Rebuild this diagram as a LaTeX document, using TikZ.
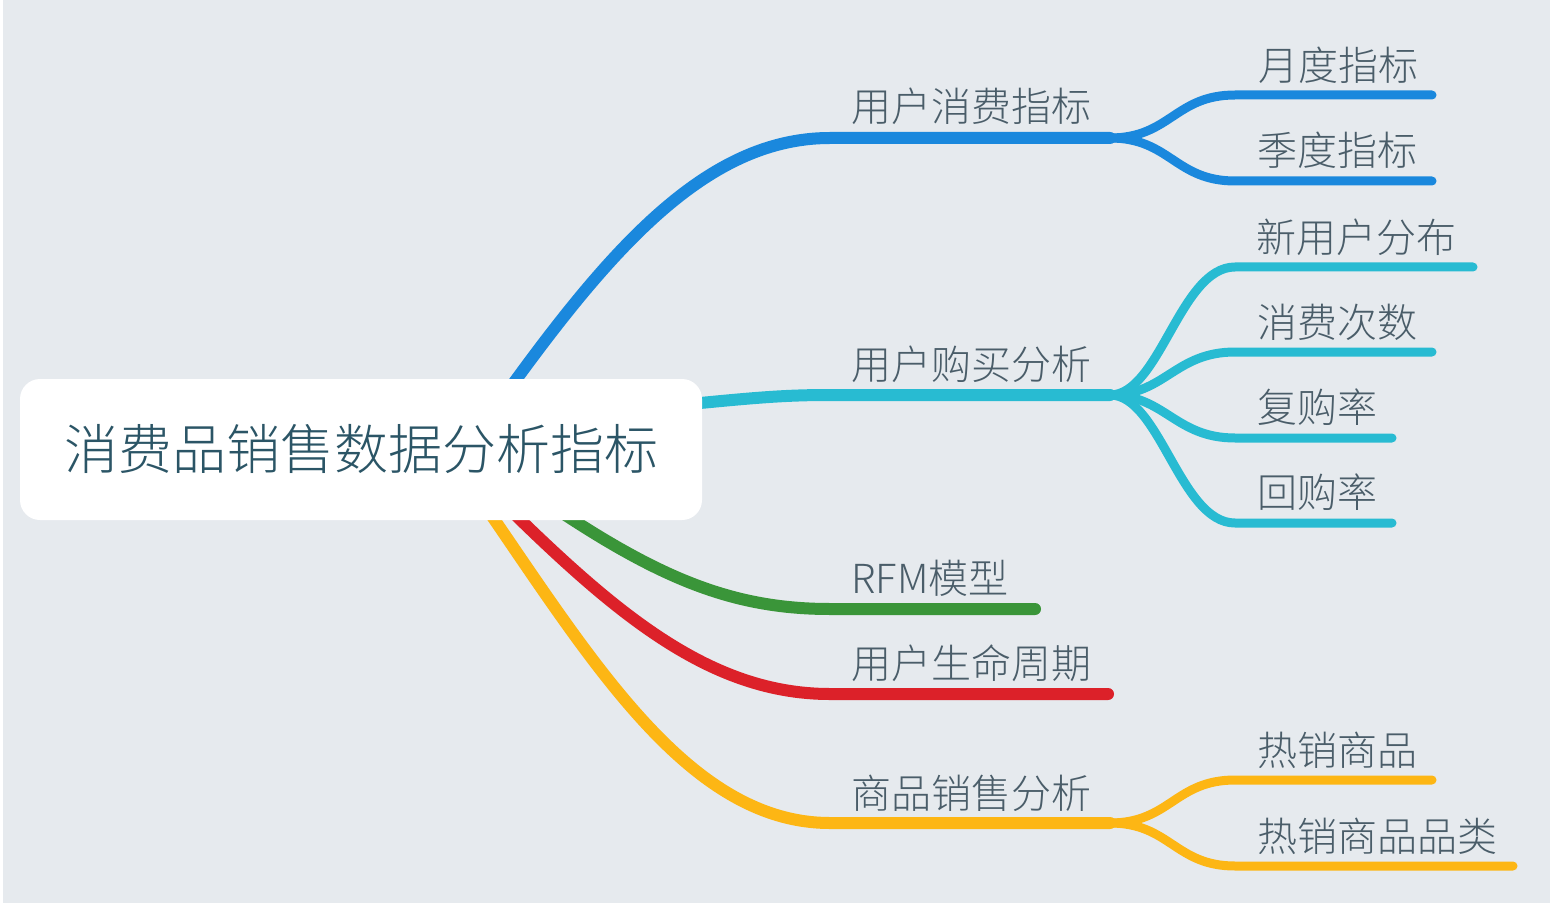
\documentclass[tikz,border=0pt]{standalone}
\usepackage{fontspec}
\setmainfont{Noto Sans CJK SC}[UprightFont={* Light}]
\definecolor{bg}{HTML}{E6EAEE}
\definecolor{cblue}{HTML}{1A88DD}
\definecolor{ccyan}{HTML}{28BBD2}
\definecolor{cgreen}{HTML}{3A9539}
\definecolor{cred}{HTML}{DC2129}
\definecolor{cyellow}{HTML}{FDB614}
\definecolor{roottext}{HTML}{2B5566}
\definecolor{labtext}{HTML}{4A5D69}
\tikzset{
  mainline/.style={line width=6pt, line cap=round},
  subline/.style={line width=4.5pt, line cap=round},
  lab/.style={anchor=west, inner sep=0pt, text=labtext, font=\fontsize{20pt}{24pt}\selectfont},
  rootbox/.style={fill=white, rounded corners=10pt, minimum width=341pt, minimum height=70.5pt, inner sep=0pt, text=roottext, font=\fontsize{27pt}{32pt}\selectfont}
}
\begin{document}
\begin{tikzpicture}[x=0.5pt,y=-0.5pt]
\useasboundingbox (0,0) rectangle (1550,903);
\fill[bg] (0,0) rectangle (1550,903);
\fill[white] (0,0) rectangle (3,903);
% fork / end coordinates
\coordinate (r1) at (480,430);
\coordinate (r2) at (650,408);
\coordinate (r3) at (500,470);
\coordinate (r4) at (470,470);
\coordinate (r5) at (460,470);
\coordinate (f1) at (1110,138);
\coordinate (f2) at (1110,395);
\coordinate (e3) at (1035,609);
\coordinate (e4) at (1108,694);
\coordinate (f5) at (1110,823);
\coordinate (e11) at (1432,95);
\coordinate (e12) at (1432,181);
\coordinate (e21) at (1473,267);
\coordinate (e22) at (1432,352);
\coordinate (e23) at (1392,438);
\coordinate (e24) at (1392,523);
\coordinate (e51) at (1432,780);
\coordinate (e52) at (1513,866);
% main branches
\draw[mainline, cblue] (r1) .. controls (600,260) and (700,138) .. (830,138) -- (f1);
\draw[mainline, ccyan] (r2) .. controls (750,398) and (780,395) .. (830,395) -- (f2);
\draw[mainline, cgreen] (r3) .. controls (640,570) and (720,609) .. (830,609) -- (e3);
\draw[mainline, cred] (r4) .. controls (600,600) and (700,694) .. (830,694) -- (e4);
\draw[mainline, cyellow] (r5) .. controls (580,640) and (680,823) .. (830,823) -- (f5);
% sub branches
\draw[subline, cblue] (f1) .. controls (1170,138) and (1175,95) .. (1235,95) -- (e11);
\draw[subline, cblue] (f1) .. controls (1170,138) and (1175,181) .. (1235,181) -- (e12);
\draw[subline, ccyan] (f2) .. controls (1160,395) and (1180,267) .. (1235,267) -- (e21);
\draw[subline, ccyan] (f2) .. controls (1165,395) and (1175,352) .. (1235,352) -- (e22);
\draw[subline, ccyan] (f2) .. controls (1165,395) and (1175,438) .. (1235,438) -- (e23);
\draw[subline, ccyan] (f2) .. controls (1160,395) and (1180,523) .. (1235,523) -- (e24);
\draw[subline, cyellow] (f5) .. controls (1170,823) and (1175,780) .. (1235,780) -- (e51);
\draw[subline, cyellow] (f5) .. controls (1170,823) and (1175,866) .. (1235,866) -- (e52);
% root
\node[rootbox] (root) at (361,449.5) {消费品销售数据分析指标};
% labels
\node[lab] (l1) at (851,106) {用户消费指标};
\node[lab] (l2) at (851,364) {用户购买分析};
\node[lab] (l3) at (851,578) {RFM模型};
\node[lab] (l4) at (851,663) {用户生命周期};
\node[lab] (l5) at (851,793) {商品销售分析};
\node[lab] (l11) at (1258,65) {月度指标};
\node[lab] (l12) at (1257,150) {季度指标};
\node[lab] (l21) at (1256,237) {新用户分布};
\node[lab] (l22) at (1257,322) {消费次数};
\node[lab] (l23) at (1257,407) {复购率};
\node[lab] (l24) at (1257,492) {回购率};
\node[lab] (l51) at (1257,750) {热销商品};
\node[lab] (l52) at (1257,836) {热销商品品类};
\end{tikzpicture}
\end{document}
